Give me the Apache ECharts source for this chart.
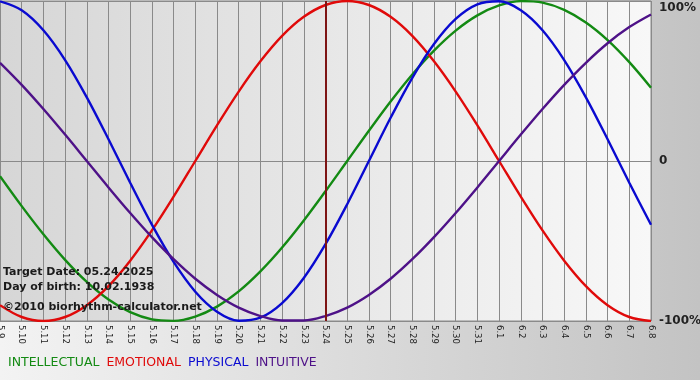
<!DOCTYPE html>
<html lang="en">
<head>
    <meta charset="UTF-8">
    <title>Biorhythm chart</title>
    <style>
        html, body {
            margin: 0;
            padding: 0;
            background: #dcdcdc;
        }
        #chart {
            width: 700px;
            height: 380px;
        }
    </style>
    <script src="https://cdn.jsdelivr.net/npm/echarts/dist/echarts.min.js"></script>
</head>
<body>

<div id="chart"></div>

<script>
    // days shown on the x axis (month.day)
    const days = ['5.9', '5.10', '5.11', '5.12', '5.13', '5.14', '5.15', '5.16', '5.17', '5.18',
        '5.19', '5.20', '5.21', '5.22', '5.23', '5.24', '5.25', '5.26', '5.27', '5.28',
        '5.29', '5.30', '5.31', '6.1', '6.2', '6.3', '6.4', '6.5', '6.6', '6.7', '6.8'];

    // cycle values in percent, one per day
    const intellectual = [-9.5, -28.2, -45.8, -61.8, -75.6, -86.6, -94.5, -99.0, -99.9, -97.2,
        -91.0, -81.5, -69.0, -54.1, -37.2, -18.9, 0, 18.9, 37.2, 54.1,
        69.0, 81.5, 91.0, 97.2, 99.9, 99.0, 94.5, 86.6, 75.6, 61.8, 45.8];
    const emotional = [-90.1, -97.5, -100, -97.5, -90.1, -78.2, -62.3, -43.4, -22.3, 0,
        22.3, 43.4, 62.3, 78.2, 90.1, 97.5, 100, 97.5, 90.1, 78.2,
        62.3, 43.4, 22.3, 0, -22.3, -43.4, -62.3, -78.2, -90.1, -97.5, -100];
    const physical = [99.8, 94.2, 81.7, 63.1, 39.8, 13.6, -13.6, -39.8, -63.1, -81.7,
        -94.2, -99.8, -97.9, -88.8, -73.1, -52.0, -27.0, 0, 27.0, 52.0,
        73.1, 88.8, 97.9, 99.8, 94.2, 81.7, 63.1, 39.8, 13.6, -13.6, -39.8];
    const intuitive = [61.4, 47.6, 32.5, 16.5, 0, -16.5, -32.5, -47.6, -61.4, -73.6,
        -83.7, -91.6, -96.9, -99.7, -99.7, -96.9, -91.6, -83.7, -73.6, -61.4,
        -47.6, -32.5, -16.5, 0, 16.5, 32.5, 47.6, 61.4, 73.6, 83.7, 91.6];

    const yTicks = [-100, 0, 100];
    const targetDay = '5.24';
    const infoLines = ['Target Date: 05.24.2025', 'Day of birth: 10.02.1938', '\u00a92010 biorhythm-calculator.net'];

    const colors = {
        INTELLECTUAL: '#138a13',
        EMOTIONAL: '#e00a0a',
        PHYSICAL: '#0a0ad0',
        INTUITIVE: '#4e1288'
    };

    const font = "'DejaVu Sans', Verdana, sans-serif";

    function makeSeries(name, data) {
        return {
            name: name,
            type: 'line',
            data: data,
            smooth: 0.35,
            symbol: 'none',
            lineStyle: { color: colors[name], width: 2.4 },
            itemStyle: { color: colors[name] },
            z: 3
        };
    }

    const series = [
        makeSeries('INTELLECTUAL', intellectual),
        makeSeries('EMOTIONAL', emotional),
        makeSeries('PHYSICAL', physical),
        makeSeries('INTUITIVE', intuitive)
    ];

    // dark red line marking the target date
    series[0].markLine = {
        silent: true,
        symbol: 'none',
        label: { show: false },
        lineStyle: { color: '#7d1414', width: 2, type: 'solid' },
        data: [{ xAxis: targetDay }]
    };

    const chart = echarts.init(document.getElementById('chart'));
    chart.setOption({
        animation: false,
        backgroundColor: {
            type: 'linear', x: 0, y: 0, x2: 1, y2: 0,
            colorStops: [{ offset: 0, color: '#f3f3f3' }, { offset: 1, color: '#c3c3c3' }]
        },
        grid: {
            left: 0, right: 49, top: 1, bottom: 59,
            outerBoundsMode: 'none',
            show: true,
            borderColor: '#8a8a8a',
            borderWidth: 1,
            backgroundColor: {
                type: 'linear', x: 0, y: 0, x2: 1, y2: 0,
                colorStops: [{ offset: 0, color: '#d6d6d6' }, { offset: 1, color: '#f8f8f8' }]
            }
        },
        legend: {
            left: -3,
            top: 351,
            itemWidth: 0,
            itemHeight: 0,
            itemGap: 1,
            selectedMode: false,
            data: Object.keys(colors).map(n => ({
                name: n,
                textStyle: n === 'EMOTIONAL'
                    ? { color: colors[n], padding: [0, 5, 0, 0] }
                    : { color: colors[n] }
            })),
            textStyle: { fontFamily: font, fontSize: 12.5 }
        },
        xAxis: {
            type: 'category',
            data: days,
            boundaryGap: false,
            axisLine: { show: true, lineStyle: { color: '#8a8a8a' } },
            axisTick: { show: false },
            splitLine: { show: true, lineStyle: { color: '#8a8a8a', width: 1 } },
            axisLabel: {
                interval: 0,
                rotate: -90,
                margin: 4,
                color: '#222',
                fontFamily: font,
                fontSize: 8.5
            }
        },
        yAxis: {
            type: 'value',
            position: 'right',
            min: yTicks[0],
            max: yTicks[2],
            interval: 100,
            axisLine: { show: false },
            axisTick: { show: false },
            splitLine: { show: true, lineStyle: { color: '#8a8a8a', width: 1 } },
            axisLabel: {
                margin: 8,
                color: '#222',
                fontFamily: font,
                fontSize: 12,
                fontWeight: 'bold',
                formatter: v => v === 0 ? '0' : (v === 100 ? '{t|100%}' : v + '%'),
                rich: {
                    t: { fontFamily: font, fontSize: 12, fontWeight: 'bold', color: '#222', padding: [13, 0, 0, 0] }
                }
            }
        },
        graphic: infoLines.map((txt, i) => ({
            type: 'text',
            left: 3,
            top: [267, 282, 302][i],
            z: 10,
            style: {
                text: txt,
                fill: '#1a1a1a',
                font: 'bold 11px ' + font
            }
        })),
        series: series
    });
</script>

</body>
</html>
